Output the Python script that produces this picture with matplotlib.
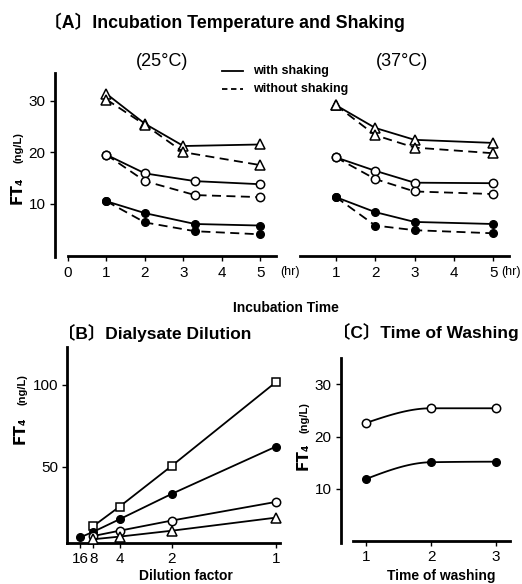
import matplotlib
matplotlib.use('Agg')
import matplotlib.pyplot as plt
import numpy as np
from matplotlib.lines import Line2D

W, H = 522, 584
plt.rcParams['font.family'] = ['Liberation Sans', 'DejaVu Sans', 'Noto Sans CJK JP']

# (A) incubation time (hr) and FT4 (ng/L)
a25_x_tri = [1, 2, 3, 5]
a25_x_circ = [1, 2, 3.3, 5]
a25_tri_w = [31.3, 25.5, 21.2, 21.5]
a25_tri_wo = [30.2, 25.3, 20.0, 17.5]
a25_circ_w = [19.5, 15.9, 14.4, 13.8]
a25_circ_wo = [19.5, 14.4, 11.7, 11.3]
a25_fill_w = [10.5, 8.2, 6.1, 5.8]
a25_fill_wo = [10.5, 6.4, 4.7, 4.1]

a37_x = [1, 2, 3, 5]
a37_tri_w = [29.1, 24.7, 22.4, 21.8]
a37_tri_wo = [29.1, 23.3, 20.9, 19.8]
a37_circ_w = [19.0, 16.4, 14.1, 14.0]
a37_circ_wo = [19.0, 14.8, 12.4, 11.9]
a37_fill_w = [11.3, 8.4, 6.5, 6.1]
a37_fill_wo = [11.3, 5.8, 4.9, 4.3]

# (B) dilution factor
dil_labels = ['16', '8', '4', '2', '1']
dil_factor = [16, 8, 4, 2, 1]
b_square = [np.nan, 13.7, 25.5, 50.4, 101.6]
b_fill = [6.8, 10.2, 17.8, 33.3, 62.2]
b_circ = [np.nan, 7.6, 10.8, 17.0, 28.4]
b_tri = [np.nan, 5.6, 7.2, 10.8, 18.8]

# (C) time of washing
c_x = [1, 2, 3]
c_circ = [22.6, 25.4, 25.4]
c_fill = [11.9, 15.1, 15.2]


def px_axes(left, top, right, bottom):
    return fig.add_axes([left / W, 1 - bottom / H, (right - left) / W, (bottom - top) / H])


def style(ax, left=True):
    for s in ['top', 'right']:
        ax.spines[s].set_visible(False)
    ax.spines['left'].set_visible(left)
    ax.spines['left'].set_linewidth(2.0)
    ax.spines['bottom'].set_linewidth(2.0)
    ax.tick_params(direction='out', length=3.5, width=1, labelsize=11, pad=3)
    ax.set_facecolor('none')


def pchip(x, y, n=60):
    # smooth monotone curve through the points (line shape only)
    x = np.asarray(x, float)
    y = np.asarray(y, float)
    h = np.diff(x)
    d = np.diff(y) / h
    m = np.zeros_like(y)
    for k in range(1, len(x) - 1):
        if d[k - 1] * d[k] > 0:
            w1 = 2 * h[k] + h[k - 1]
            w2 = h[k] + 2 * h[k - 1]
            m[k] = (w1 + w2) / (w1 / d[k - 1] + w2 / d[k])
    def endslope(h0, h1, d0, d1):
        s = ((2 * h0 + h1) * d0 - h0 * d1) / (h0 + h1)
        if np.sign(s) != np.sign(d0):
            return 0.0
        if np.sign(d0) != np.sign(d1) and abs(s) > 3 * abs(d0):
            return 3 * d0
        return s
    m[0] = endslope(h[0], h[1], d[0], d[1])
    m[-1] = endslope(h[-1], h[-2], d[-1], d[-2])
    xs, ys = [], []
    for k in range(len(h)):
        t = np.linspace(0, 1, n)
        h00 = 2 * t**3 - 3 * t**2 + 1
        h10 = t**3 - 2 * t**2 + t
        h01 = -2 * t**3 + 3 * t**2
        h11 = t**3 - t**2
        xs.append(x[k] + t * h[k])
        ys.append(h00 * y[k] + h10 * h[k] * m[k] + h01 * y[k + 1] + h11 * h[k] * m[k + 1])
    return np.concatenate(xs), np.concatenate(ys)


fig = plt.figure(figsize=(W / 100, H / 100), dpi=100)

lw = 1.3
dash = (0, (5, 3))
open_kw = dict(markerfacecolor='white', markeredgecolor='black', markeredgewidth=1.1, color='black')
fill_kw = dict(markerfacecolor='black', markeredgecolor='black', color='black')
title_fam = ['Liberation Sans', 'Noto Sans CJK JP']

# ---- panel A ----
axL = px_axes(54.5, 73.2, 277.8, 255.5)
axR = px_axes(299.8, 73.2, 508.9, 255.5)
for ax, xs_t, xs_c, d in [
    (axL, a25_x_tri, a25_x_circ, (a25_tri_w, a25_tri_wo, a25_circ_w, a25_circ_wo, a25_fill_w, a25_fill_wo)),
    (axR, a37_x, a37_x, (a37_tri_w, a37_tri_wo, a37_circ_w, a37_circ_wo, a37_fill_w, a37_fill_wo)),
]:
    ax.plot(xs_t, d[0], marker='^', ms=7, lw=lw, **open_kw, zorder=3)
    ax.plot(xs_t, d[1], marker='^', ms=7, lw=lw, ls=dash, **open_kw, zorder=3)
    ax.plot(xs_c, d[2], marker='o', ms=6, lw=lw, **open_kw, zorder=3)
    ax.plot(xs_c, d[3], marker='o', ms=6, lw=lw, ls=dash, **open_kw, zorder=3)
    ax.plot(xs_c, d[4], marker='o', ms=5.5, lw=lw, **fill_kw, zorder=3)
    ax.plot(xs_c, d[5], marker='o', ms=5.5, lw=lw, ls=dash, **fill_kw, zorder=3)
    ax.set_ylim(0, 35.3)

axL.set_xlim(-0.35, 5.45)
style(axL)
axL.spines['bottom'].set_bounds(0, 5.4)
axL.spines['left'].set_bounds(-0.3, 35.3)
axL.set_xticks([0, 1, 2, 3, 4, 5])
axL.set_yticks([10, 20, 30])
axL.tick_params(axis='x', pad=4)

axR.set_xlim(0.08, 5.4)
style(axR, left=False)
axR.set_xticks([1, 2, 3, 4, 5])
axR.set_yticks([])
axR.tick_params(axis='x', pad=4)

fig.text(44 / W, 1 - 22 / H, '〔A〕Incubation Temperature and Shaking', ha='left', va='center',
         fontsize=12.8, weight='bold', family=title_fam)
fig.text(161.7 / W, 1 - 62 / H, '(25°C)', ha='center', va='center', fontsize=13)
fig.text(401.7 / W, 1 - 62 / H, '(37°C)', ha='center', va='center', fontsize=13)
fig.add_artist(Line2D([221.7 / W, 243.3 / W], [1 - 70.7 / H, 1 - 70.7 / H], color='black', lw=1.3))
fig.add_artist(Line2D([221.7 / W, 243.3 / W], [1 - 89 / H, 1 - 89 / H], color='black', lw=1.3,
                      ls=(0, (3, 2))))
fig.text(253 / W, 1 - 70.7 / H, 'with shaking', ha='left', va='center', fontsize=9, weight='bold')
fig.text(253 / W, 1 - 89 / H, 'without shaking', ha='left', va='center', fontsize=9, weight='bold')
fig.text(280 / W, 1 - 272 / H, '(hr)', ha='left', va='center', fontsize=9)
fig.text(501 / W, 1 - 272 / H, '(hr)', ha='left', va='center', fontsize=9)
fig.text(286 / W, 1 - 308 / H, 'Incubation Time', ha='center', va='center', fontsize=10, weight='bold')


def ft4_label(x, y_ft, y_unit):
    fig.text(x / W, 1 - y_ft / H, 'FT₄', rotation=90, ha='center', va='center', fontsize=11,
             weight='bold', family=['DejaVu Sans'])
    fig.text((x + 2) / W, 1 - y_unit / H, '(ng/L)', rotation=90, ha='center', va='center', fontsize=8,
             weight='bold')


ft4_label(17, 190, 148)

# ---- panel B ----
axB = px_axes(67.4, 347, 280.2, 543)
conc = [1 / d for d in dil_factor]
axB.plot(conc, b_square, marker='s', ms=6, lw=lw, **open_kw, zorder=3, clip_on=False)
axB.plot(conc, b_fill, marker='o', ms=5.5, lw=lw, **fill_kw, zorder=3, clip_on=False)
axB.plot(conc, b_circ, marker='o', ms=6, lw=lw, **open_kw, zorder=3, clip_on=False)
axB.plot(conc, b_tri, marker='^', ms=7, lw=lw, **open_kw, zorder=3, clip_on=False)
axB.set_xlim(0, 1.02)
axB.set_ylim(3.3, 123)
style(axB)
axB.set_xticks(conc)
axB.set_xticklabels(dil_labels)
axB.set_yticks([50, 100])

fig.text(58 / W, 1 - 333.3 / H, '〔B〕Dialysate Dilution', ha='left', va='center',
         fontsize=12.5, weight='bold', family=title_fam)
fig.text(186 / W, 1 - 583 / H, 'Dilution factor', ha='center', va='bottom', fontsize=10, weight='bold')
ft4_label(20, 430, 390)

# ---- panel C ----
axC = px_axes(340.7, 358, 510.4, 541.3)
for yv, kw, ms in [(c_circ, open_kw, 6), (c_fill, fill_kw, 5.5)]:
    sx, sy = pchip(c_x, yv)
    axC.plot(sx, sy, color='black', lw=lw)
    axC.plot(c_x, yv, ls='none', marker='o', ms=ms, **kw, zorder=3)
axC.set_xlim(0.61, 3.22)
axC.set_ylim(0, 35)
style(axC)
axC.spines['bottom'].set_bounds(0.8, 3.22)
axC.spines['left'].set_bounds(-0.3, 35)
axC.set_xticks(c_x)
axC.set_yticks([10, 20, 30])

fig.text(333 / W, 1 - 331.7 / H, '〔C〕Time of Washing', ha='left', va='center',
         fontsize=12.5, weight='bold', family=title_fam)
fig.text(441 / W, 1 - 583 / H, 'Time of washing', ha='center', va='bottom', fontsize=10, weight='bold')
ft4_label(303, 456, 418)

fig.savefig('out.png', dpi=100)
